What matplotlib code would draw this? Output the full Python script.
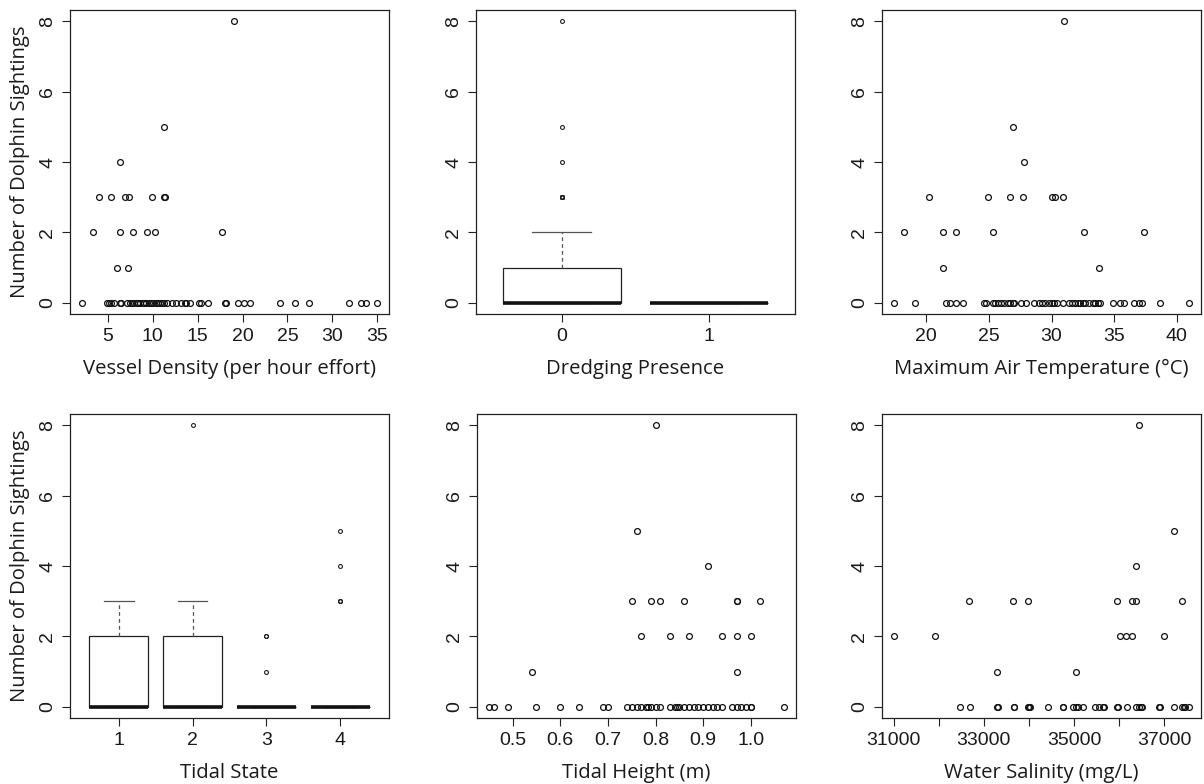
import numpy as np
import matplotlib
matplotlib.use("Agg")
import matplotlib.pyplot as plt

# Data
vessel_x = [19.1, 11.2, 6.3, 3.96, 5.4, 6.86, 7.4, 9.9, 11.25, 11.35,
            3.3, 6.3, 7.75, 9.4, 10.2, 17.7, 5.97, 7.2,
            2.1, 4.95, 5.1, 5.3, 5.7, 6.4, 6.45, 7.1, 7.5, 7.7, 7.9, 8.2, 8.4,
            8.6, 8.9, 9.0, 9.2, 9.6, 9.8, 10.0, 10.4, 10.6, 10.8, 11.0, 11.3,
            11.6, 12.1, 12.6, 13.1, 13.6, 13.7, 14.2, 15.2, 15.4, 16.2, 18.1,
            18.2, 19.5, 20.15, 20.8, 24.2, 25.9, 27.4, 31.9, 33.2, 33.7, 35.0]
vessel_y = [8, 5, 4, 3, 3, 3, 3, 3, 3, 3, 2, 2, 2, 2, 2, 2, 1, 1] + [0] * 47

temp_x = [31.0, 26.9, 27.8, 20.2, 24.9, 26.7, 27.7, 30.0, 30.3, 30.9,
          18.2, 21.3, 22.4, 25.3, 32.6, 37.4, 21.3, 33.8,
          17.4, 19.1, 21.6, 21.9, 22.4, 22.9, 24.6, 24.8, 25.3, 25.5, 25.7,
          26.0, 26.2, 26.5, 26.7, 26.9, 27.0, 27.6, 28.0, 28.6, 29.0, 29.2,
          29.5, 29.8, 30.0, 30.2, 30.4, 30.9, 31.4, 31.6, 31.9, 32.1, 32.3,
          32.5, 32.7, 33.0, 33.3, 33.5, 33.7, 33.9, 34.9, 35.5, 35.8, 36.6,
          37.0, 37.2, 38.7, 41.0]
temp_y = [8, 5, 4, 3, 3, 3, 3, 3, 3, 3, 2, 2, 2, 2, 2, 2, 1, 1] + [0] * 48

height_x = [0.80, 0.76, 0.91, 0.75, 0.79, 0.81, 0.86, 0.97, 0.97, 1.02,
            0.77, 0.83, 0.87, 0.94, 0.97, 1.00, 0.54, 0.97,
            0.45, 0.46, 0.49, 0.55, 0.60, 0.64, 0.69, 0.70, 0.74, 0.75, 0.76,
            0.77, 0.78, 0.785, 0.79, 0.80, 0.81, 0.83, 0.84, 0.845, 0.85,
            0.86, 0.87, 0.88, 0.89, 0.90, 0.91, 0.92, 0.93, 0.94, 0.96, 0.97,
            0.98, 0.99, 1.00, 1.00, 1.07]
height_y = [8, 5, 4, 3, 3, 3, 3, 3, 3, 3, 2, 2, 2, 2, 2, 2, 1, 1] + [0] * 37

salinity_x = [36440, 37220, 36370, 32680, 33650, 33980, 35950, 36280, 36380,
              37390, 31000, 31920, 36030, 36160, 36280, 37010, 33290, 35040,
              32476, 32683, 33300, 33310, 33660, 33670, 33990, 34010, 34030,
              34430, 34750, 34760, 34990, 35040, 35080, 35200, 35460, 35560,
              35640, 35660, 35960, 35970, 36170, 36380, 36450, 36480, 36520,
              36900, 36910, 37230, 37400, 37440, 37460, 37560]
salinity_y = [8, 5, 4, 3, 3, 3, 3, 3, 3, 3, 2, 2, 2, 2, 2, 2, 1, 1] + [0] * 34

dredging_labels = ["0", "1"]
dredging_no = [0] * 50 + [1] * 2 + [2] * 6 + [3] * 7 + [4, 5, 8]
dredging_yes = [0] * 30

tidal_labels = ["1", "2", "3", "4"]
tidal_1 = [0] * 7 + [1] + [2] * 2 + [3] * 2
tidal_2 = [0] * 10 + [2] * 3 + [3] * 2 + [8]
tidal_3 = [0] * 17 + [1, 2, 2]
tidal_4 = [0] * 20 + [3, 3, 3, 4, 5]

y_label = "Number of Dolphin Sightings"
sight_ticks = [0, 2, 4, 6, 8]

TICK_FONT = "Liberation Sans"
LABEL_FONT = "Open Sans"
INK = "#1a1a1a"

W, H = 1204, 784
fig = plt.figure(figsize=(W / 100, H / 100), dpi=100)


def r_lim(vals):
    lo, hi = min(vals), max(vals)
    d = (hi - lo) * 0.04
    return lo - d, hi + d


def make_axes(left, top, w=319, h=304):
    ax = fig.add_axes([left / W, 1 - (top + h) / H, w / W, h / H])
    for s in ax.spines.values():
        s.set_linewidth(0.9)
        s.set_color("#222222")
    ax.tick_params(length=5.5, width=0.8, color="#222222", pad=4.5,
                   labelsize=14, labelcolor=INK)
    ax.set_ylim(r_lim(sight_ticks))
    ax.set_yticks(sight_ticks)
    for lbl in ax.get_yticklabels():
        lbl.set_rotation(90)
        lbl.set_va("center")
        lbl.set_fontfamily(TICK_FONT)
    return ax


def finish(ax, xlabel, ylab=False):
    for lbl in ax.get_xticklabels():
        lbl.set_fontfamily(TICK_FONT)
    ax.set_xlabel(xlabel, fontsize=14.6, family=LABEL_FONT, color=INK,
                  va="baseline")
    ax.xaxis.set_label_coords(0.5, -60 / 304)
    if ylab:
        ax.set_ylabel(y_label, fontsize=14.6, family=LABEL_FONT, color=INK,
                      va="center")
        ax.yaxis.set_label_coords(-50 / 319, 0.5)


def scatter(ax, x, y):
    ax.plot(x, y, "o", mfc="none", mec="#111111", ms=4.2, mew=0.9,
            clip_on=False)
    ax.set_xlim(r_lim(x))


def boxes(ax, groups, labels):
    pos = np.arange(1, len(groups) + 1)
    ax.boxplot(groups, positions=pos, widths=0.8, whis=1.5, patch_artist=True,
               capwidths=0.4,
               boxprops=dict(facecolor="white", edgecolor="#222222", lw=0.9),
               medianprops=dict(color="#111111", lw=2.6, solid_capstyle="butt"),
               whiskerprops=dict(color="#555555", lw=0.9, ls=(0, (3, 2.5))),
               capprops=dict(color="#555555", lw=0.9),
               flierprops=dict(marker="o", mfc="none", mec="#222222", ms=2.8,
                               mew=0.8))
    ax.set_xlim(r_lim([0.5, len(groups) + 0.5]))
    ax.set_xticks(pos)
    ax.set_xticklabels(labels)
    ax.set_ylim(r_lim(sight_ticks))
    ax.set_yticks(sight_ticks)
    for lbl in ax.get_yticklabels():
        lbl.set_rotation(90)
        lbl.set_va("center")
        lbl.set_fontfamily(TICK_FONT)


# top row
ax1 = make_axes(70, 10)
scatter(ax1, vessel_x, vessel_y)
ax1.set_xticks([5, 10, 15, 20, 25, 30, 35])
finish(ax1, "Vessel Density (per hour effort)", ylab=True)

ax2 = make_axes(476, 10)
boxes(ax2, [dredging_no, dredging_yes], dredging_labels)
finish(ax2, "Dredging Presence")

ax3 = make_axes(882, 10)
scatter(ax3, temp_x, temp_y)
ax3.set_xticks([20, 25, 30, 35, 40])
finish(ax3, "Maximum Air Temperature (°C)")

# bottom row
ax4 = make_axes(70, 414)
boxes(ax4, [tidal_1, tidal_2, tidal_3, tidal_4], tidal_labels)
finish(ax4, "Tidal State", ylab=True)

ax5 = make_axes(477, 414)
scatter(ax5, height_x, height_y)
ax5.set_xticks([0.5, 0.6, 0.7, 0.8, 0.9, 1.0])
ax5.set_xticklabels(["0.5", "0.6", "0.7", "0.8", "0.9", "1.0"])
finish(ax5, "Tidal Height (m)")

ax6 = make_axes(882, 414)
scatter(ax6, salinity_x, salinity_y)
sal_ticks = np.arange(31000, 38000, 1000)
ax6.set_xticks(sal_ticks)
ax6.set_xticklabels([str(t) if (t // 1000) % 2 == 1 else "" for t in sal_ticks])
finish(ax6, "Water Salinity (mg/L)")

fig.savefig("out.png", dpi=100, facecolor="white")
